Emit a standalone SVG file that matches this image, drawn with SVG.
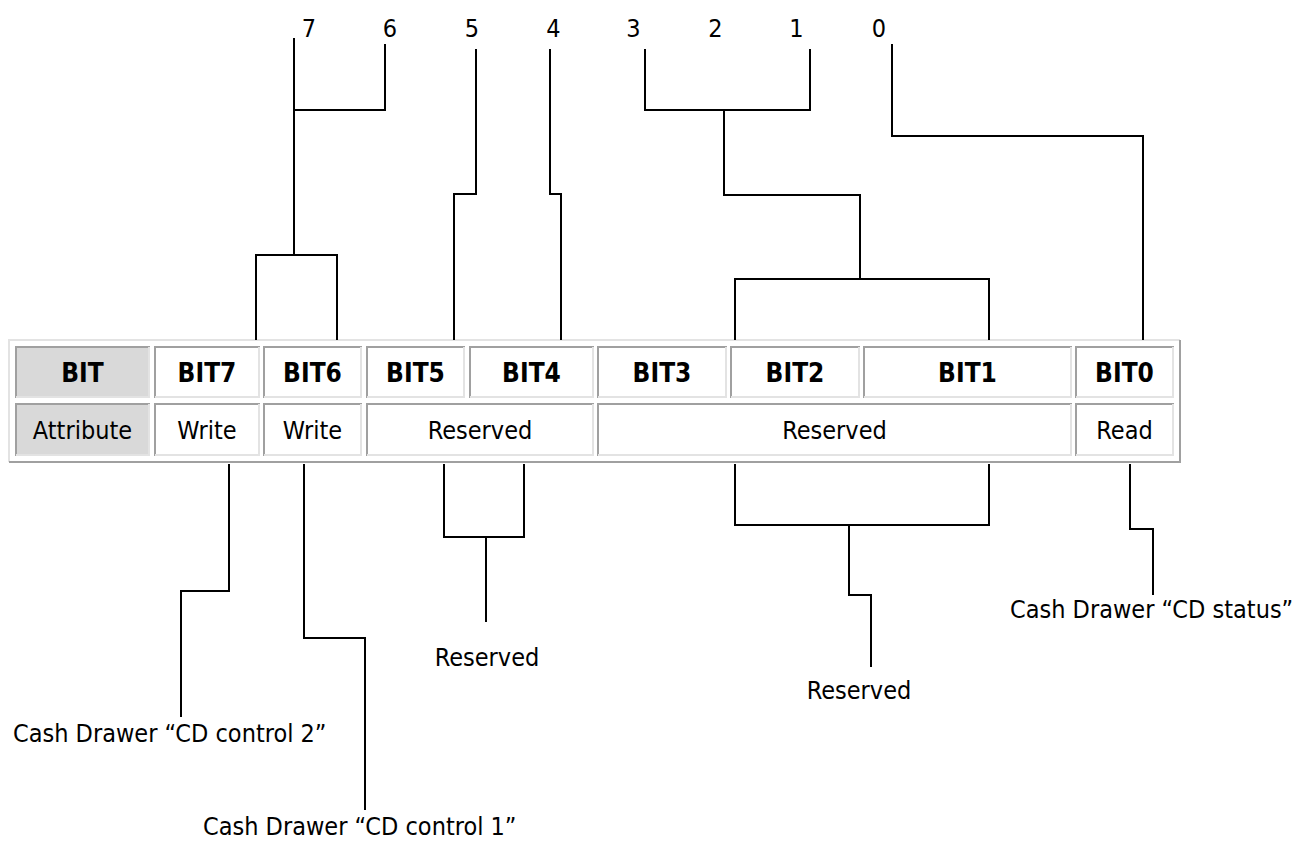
<svg xmlns="http://www.w3.org/2000/svg" width="1304" height="841" viewBox="0 0 1304 841">
<style>
text{font-family:"DejaVu Sans Condensed","DejaVu Sans","Liberation Sans",sans-serif;font-stretch:condensed;font-size:25px;fill:#000}
.b{font-weight:bold;font-size:26px}
.m{text-anchor:middle}
.c{fill:#fff;stroke:#a0a0a0;stroke-width:2}
.g{fill:#d9d9d9}
.lt{fill:none;stroke:#e3e3e3;stroke-width:2}
.ln{fill:none;stroke:#000;stroke-width:2}
</style>
<rect width="1304" height="841" fill="#fff"/>
<g id="table">
<path d="M9,462 V340 H1180" fill="none" stroke="#e3e3e3" stroke-width="2"/>
<path d="M9,462 H1180 V340" fill="none" stroke="#a0a0a0" stroke-width="2"/>
</g>
<g id="cell-bit"><rect class="c g" x="16" y="347" width="133" height="50"/><path class="lt" d="M16,397 H149 V347"/><text class="b m" x="82.5" y="382">BIT</text></g>
<g id="cell-bit7"><rect class="c" x="155" y="347" width="104" height="50"/><path class="lt" d="M155,397 H259 V347"/><text class="b m" x="207" y="382">BIT7</text></g>
<g id="cell-bit6"><rect class="c" x="264" y="347" width="97" height="50"/><path class="lt" d="M264,397 H361 V347"/><text class="b m" x="312.5" y="382">BIT6</text></g>
<g id="cell-bit5"><rect class="c" x="367" y="347" width="97" height="50"/><path class="lt" d="M367,397 H464 V347"/><text class="b m" x="415.5" y="382">BIT5</text></g>
<g id="cell-bit4"><rect class="c" x="470" y="347" width="123" height="50"/><path class="lt" d="M470,397 H593 V347"/><text class="b m" x="531.5" y="382">BIT4</text></g>
<g id="cell-bit3"><rect class="c" x="598" y="347" width="128" height="50"/><path class="lt" d="M598,397 H726 V347"/><text class="b m" x="662" y="382">BIT3</text></g>
<g id="cell-bit2"><rect class="c" x="731" y="347" width="128" height="50"/><path class="lt" d="M731,397 H859 V347"/><text class="b m" x="795" y="382">BIT2</text></g>
<g id="cell-bit1"><rect class="c" x="864" y="347" width="207" height="50"/><path class="lt" d="M864,397 H1071 V347"/><text class="b m" x="967.5" y="382">BIT1</text></g>
<g id="cell-bit0"><rect class="c" x="1076" y="347" width="97" height="50"/><path class="lt" d="M1076,397 H1173 V347"/><text class="b m" x="1124.5" y="382">BIT0</text></g>
<g id="cell-attr"><rect class="c g" x="16" y="404" width="133" height="51"/><path class="lt" d="M16,455 H149 V404"/><text class="m" x="82.5" y="439">Attribute</text></g>
<g id="cell-w7"><rect class="c" x="155" y="404" width="104" height="51"/><path class="lt" d="M155,455 H259 V404"/><text class="m" x="207" y="439">Write</text></g>
<g id="cell-w6"><rect class="c" x="264" y="404" width="97" height="51"/><path class="lt" d="M264,455 H361 V404"/><text class="m" x="312.5" y="439">Write</text></g>
<g id="cell-r54"><rect class="c" x="367" y="404" width="226" height="51"/><path class="lt" d="M367,455 H593 V404"/><text class="m" x="480" y="439">Reserved</text></g>
<g id="cell-r321"><rect class="c" x="598" y="404" width="473" height="51"/><path class="lt" d="M598,455 H1071 V404"/><text class="m" x="834.5" y="439">Reserved</text></g>
<g id="cell-r0"><rect class="c" x="1076" y="404" width="97" height="51"/><path class="lt" d="M1076,455 H1173 V404"/><text class="m" x="1124.5" y="439">Read</text></g>
<g id="bit-numbers">
<text class="m" x="309" y="37">7</text>
<text class="m" x="390" y="37">6</text>
<text class="m" x="472" y="37">5</text>
<text class="m" x="553.5" y="37">4</text>
<text class="m" x="633.5" y="37">3</text>
<text class="m" x="715.5" y="37">2</text>
<text class="m" x="796.5" y="37">1</text>
<text class="m" x="879" y="37">0</text>
</g>
<g id="labels">
<text class="m" x="487" y="666">Reserved</text>
<text class="m" x="859" y="699">Reserved</text>
<text x="1010" y="618">Cash Drawer “CD status”</text>
<text x="13" y="742">Cash Drawer “CD control 2”</text>
<text x="203" y="835">Cash Drawer “CD control 1”</text>
</g>
<g id="connectors" class="ln">
<path class="ln" d="M294,38 V255"/>
<path class="ln" d="M385,44 V110 H294"/>
<path class="ln" d="M256,340 V255 H337 V340"/>
<path class="ln" d="M476,49 V194 H454 V340"/>
<path class="ln" d="M550,49 V194 H561 V340"/>
<path class="ln" d="M645,49 V110 H810 V49"/>
<path class="ln" d="M724,110 V195 H860 V279"/>
<path class="ln" d="M735,340 V279 H989 V340"/>
<path class="ln" d="M892,44 V136 H1143 V340"/>
<path class="ln" d="M229,464 V591 H181 V717"/>
<path class="ln" d="M304,464 V638 H365 V810"/>
<path class="ln" d="M444,464 V537 H524 V464"/>
<path class="ln" d="M486,537 V622"/>
<path class="ln" d="M735,464 V525 H989 V464"/>
<path class="ln" d="M849,525 V595 H871 V667"/>
<path class="ln" d="M1130,464 V529 H1153 V595"/>
</g>
</svg>
